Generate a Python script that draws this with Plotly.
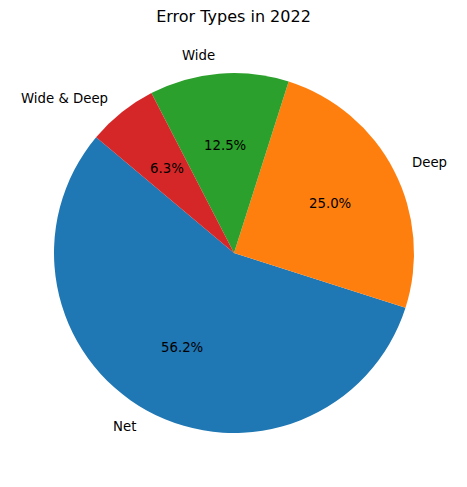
import math
import plotly.graph_objects as go

labels = ["Net", "Deep", "Wide", "Wide & Deep"]
values = [56.2, 25.0, 12.5, 6.3]
colors = ["#1f77b4", "#ff7f0e", "#2ca02c", "#d62728"]
title = "Error Types in 2022"

W, H = 467, 487
cx, cy, R = 234, 253, 180
start = 140.0
total = sum(values)

fig = go.Figure(go.Pie(
    labels=labels, values=values, sort=False,
    direction="counterclockwise",
    rotation=90 - start - 360.0 * values[0] / total,
    marker=dict(colors=colors, line=dict(width=0)),
    textinfo="none", hoverinfo="label+percent", showlegend=False,
    domain=dict(x=[(cx - R) / W, (cx + R) / W],
                y=[(H - cy - R) / H, (H - cy + R) / H]),
))

ann = []
a = start
font = dict(family="DejaVu Sans", size=13.3, color="black")
for lab, v in zip(labels, values):
    span = 360.0 * v / total
    mid = math.radians(a + span / 2)
    a += span
    lx = cx + 1.1 * R * math.cos(mid)
    ly = cy - 1.1 * R * math.sin(mid)
    ann.append(dict(x=lx / W, y=1 - ly / H, xref="paper", yref="paper",
                    text=lab, showarrow=False, font=font,
                    xanchor="left" if math.cos(mid) > 0 else "right",
                    yanchor="middle"))
    px = cx + 0.6 * R * math.cos(mid)
    py = cy - 0.6 * R * math.sin(mid)
    ann.append(dict(x=px / W, y=1 - py / H, xref="paper", yref="paper",
                    text=f"{100 * v / total:.1f}%", showarrow=False, font=font,
                    xanchor="center", yanchor="middle"))

fig.update_layout(
    width=W, height=H, margin=dict(l=0, r=0, t=0, b=0),
    paper_bgcolor="white", plot_bgcolor="white",
    title=dict(text=title, x=0.5, xanchor="center", y=1 - 16 / H, yanchor="middle",
               font=dict(family="DejaVu Sans", size=16, color="black")),
    annotations=ann,
)
fig.write_html("out.html", config={"displayModeBar": False},
               post_script="document.body.style.margin='0';")
